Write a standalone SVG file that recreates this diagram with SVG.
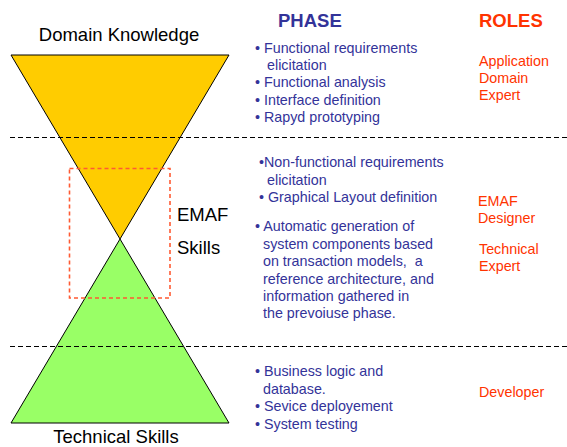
<svg xmlns="http://www.w3.org/2000/svg" width="567" height="447" viewBox="0 0 567 447">
<style>
text{font-family:"Liberation Sans",Arial,sans-serif}
.big{font-size:18.5px;fill:#000}
.hdr{font-size:18.5px;font-weight:bold}
.ph{fill:#333399}
.rl{fill:#ff3300}
.item{font-size:14.3px}
.sep{stroke:#000;stroke-width:1;stroke-dasharray:5,3;fill:none}
.tri{stroke:#000;stroke-width:1}
</style>
<rect width="567" height="447" fill="#fff"/>
<g id="domain-triangle">
<polygon class="tri" points="11,55 229,55 120,239" fill="#ffcc00"/>
</g>
<g id="technical-triangle">
<polygon class="tri" points="120,239 229,423 11,423" fill="#99ff66"/>
</g>
<g id="connectors">
<line class="sep" x1="10" y1="137.5" x2="567" y2="137.5"/>
<line class="sep" x1="10" y1="346.5" x2="567" y2="346.5"/>
</g>
<g id="emaf-box">
<rect x="69.5" y="168.5" width="100.5" height="129.5" fill="none" stroke="#ff5a33" stroke-width="1.6" stroke-dasharray="4,3"/>
<text class="big" x="177" y="221">EMAF</text>
<text class="big" x="177" y="254">Skills</text>
</g>
<g id="labels">
<text class="big" x="119" y="41" text-anchor="middle">Domain Knowledge</text>
<text class="big" x="116" y="442.5" text-anchor="middle">Technical Skills</text>
</g>
<g id="headers">
<text class="hdr ph" x="278" y="27">PHASE</text>
<text class="hdr rl" x="479" y="27">ROLES</text>
</g>
<g id="phase1">
<text class="item ph" x="255" y="53">• Functional requirements</text>
<text class="item ph" x="267" y="70">elicitation</text>
<text class="item ph" x="255" y="87">• Functional analysis</text>
<text class="item ph" x="255" y="104.5">• Interface definition</text>
<text class="item ph" x="255" y="122">• Rapyd prototyping</text>
</g>
<g id="roles1">
<text class="item rl" x="479" y="66">Application</text>
<text class="item rl" x="479" y="83">Domain</text>
<text class="item rl" x="479" y="100">Expert</text>
</g>
<g id="phase2">
<text class="item ph" x="259" y="167">•Non-functional requirements</text>
<text class="item ph" x="267" y="185">elicitation</text>
<text class="item ph" x="259" y="202">• Graphical Layout definition</text>
<text class="item ph" x="255" y="231">• Automatic generation of</text>
<text class="item ph" x="263" y="248.5">system components based</text>
<text class="item ph" x="263" y="266" xml:space="preserve" style="white-space:pre">on transaction models,  a</text>
<text class="item ph" x="263" y="283.5">reference architecture, and</text>
<text class="item ph" x="263" y="301">information gathered in</text>
<text class="item ph" x="263" y="318">the prevoiuse phase.</text>
</g>
<g id="roles2">
<text class="item rl" x="478" y="206">EMAF</text>
<text class="item rl" x="478" y="223">Designer</text>
<text class="item rl" x="479" y="254">Technical</text>
<text class="item rl" x="479" y="271">Expert</text>
</g>
<g id="phase3">
<text class="item ph" x="255" y="376">• Business logic and</text>
<text class="item ph" x="263" y="393.5">database.</text>
<text class="item ph" x="255" y="411">• Sevice deployement</text>
<text class="item ph" x="255" y="428.5">• System testing</text>
</g>
<g id="roles3">
<text class="item rl" x="479" y="397">Developer</text>
</g>
</svg>
